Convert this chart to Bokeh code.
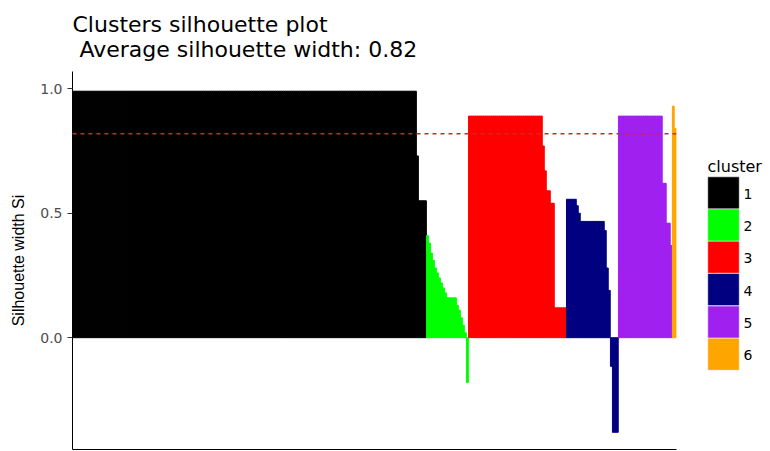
from bokeh.plotting import figure
from bokeh.models import Span, FixedTicker, PrintfTickFormatter, ColumnDataSource
from bokeh.layouts import row
from bokeh.embed import file_html
from bokeh.resources import INLINE
from bokeh.core.properties import value

# ---- data (silhouette widths, sorted within cluster; run-length: value, count) ----
clusters = ["1", "2", "3", "4", "5", "6"]
cluster_colors = ["#000000", "#00FF00", "#FF0000", "#000080", "#A020F0", "#FFA500"]

c1_vals = [0.99, 0.73, 0.55]
c1_counts = [172, 1, 4]

c2_vals = [0.41, 0.38, 0.34, 0.31, 0.28, 0.26, 0.24, 0.22, 0.20, 0.18, 0.16, 0.13, 0.11, 0.08, 0.05, 0.02, -0.18]
c2_counts = [1, 1, 1, 1, 1, 1, 1, 1, 1, 1, 5, 1, 1, 1, 1, 1, 1]

c3_vals = [0.89, 0.77, 0.67, 0.59, 0.54, 0.12]
c3_counts = [37, 1, 1, 2, 2, 6]

c4_vals = [0.556, 0.53, 0.50, 0.467, 0.43, 0.28, 0.19, -0.115, -0.38]
c4_counts = [5, 1, 1, 12, 1, 1, 1, 1, 3]

c5_vals = [0.89, 0.62, 0.46, 0.37]
c5_counts = [22, 2, 2, 1]

c6_vals = [0.93, 0.84]
c6_counts = [1, 1]

avg_label = "0.82"

all_vals = [c1_vals, c2_vals, c3_vals, c4_vals, c5_vals, c6_vals]
all_counts = [c1_counts, c2_counts, c3_counts, c4_counts, c5_counts, c6_counts]

xs, tops, cols = [], [], []
i = 1
for vals, counts, col in zip(all_vals, all_counts, cluster_colors):
    for v, c in zip(vals, counts):
        for _ in range(c):
            xs.append(i)
            tops.append(v)
            cols.append(col)
            i += 1
n = len(xs)
mean_sil = sum(tops) / n

src = ColumnDataSource(dict(x=xs, top=tops, color=cols))

ymin = min(min(tops), 0)
ymax = 1.0
pad = (ymax - ymin) * 0.05

FONT = "DejaVu Sans"
FIG_H = 451
TOP_B = 71
BOT_B = 2

p = figure(width=680, height=FIG_H, x_range=(0.4, n + 0.6), y_range=(ymin - pad, ymax + pad),
           output_backend="svg", toolbar_location=None,
           min_border_left=72, min_border_right=4, min_border_top=TOP_B, min_border_bottom=BOT_B)

p.vbar(x="x", top="top", bottom=0, width=0.9, fill_color="color", line_color="color",
       line_width=1, source=src)

p.add_layout(Span(location=mean_sil, dimension="width", line_color="#D02828",
                  line_dash="4 4", line_width=1.3))

# two-line title
p.title.text = "Clusters silhouette plot\n\u00a0Average silhouette width: " + avg_label
p.title.text_font = FONT
p.title.text_font_size = "22px"
p.title.text_font_style = "normal"
p.title.text_color = "black"
p.title.align = "left"
p.title.standoff = 19

# axes
p.xgrid.visible = False
p.ygrid.visible = False
p.outline_line_color = None

p.xaxis.ticker = FixedTicker(ticks=[])
p.xaxis.major_label_text_font_size = "0px"
p.xaxis.major_tick_out = 0
p.xaxis.major_tick_in = 0
p.xaxis.minor_tick_out = 0
p.xaxis.minor_tick_in = 0
p.xaxis.axis_line_color = "black"
p.xaxis.major_label_standoff = 0

p.yaxis.ticker = FixedTicker(ticks=[0.0, 0.5, 1.0])
p.yaxis.formatter = PrintfTickFormatter(format="%.1f")
p.yaxis.major_label_text_font = FONT
p.yaxis.major_label_text_font_size = "14px"
p.yaxis.major_label_text_color = "#4D4D4D"
p.yaxis.major_tick_out = 5
p.yaxis.major_tick_in = 0
p.yaxis.minor_tick_out = 0
p.yaxis.minor_tick_in = 0
p.yaxis.major_tick_line_color = "#333333"
p.yaxis.axis_line_color = "black"
p.yaxis.major_label_standoff = 5
p.yaxis.axis_label = "Silhouette width Si"
p.yaxis.axis_label_text_font = "Liberation Sans"
p.yaxis.axis_label_text_font_size = "16px"
p.yaxis.axis_label_text_font_style = "normal"
p.yaxis.axis_label_text_color = "black"
p.yaxis.axis_label_standoff = 10

# ---- legend as a small figure (its frame is aligned with the main frame) ----
LW = 90
lf = figure(width=LW, height=FIG_H, x_range=(0, LW), y_range=(FIG_H - BOT_B, TOP_B),
            output_backend="svg", toolbar_location=None, min_border=0,
            min_border_top=TOP_B, min_border_bottom=BOT_B)
lf.axis.visible = False
lf.xgrid.visible = False
lf.ygrid.visible = False
lf.outline_line_color = None

key_top0 = 176.7
pitch = 32.3
key_h = 31
kx0, kx1 = 27.7, 58.3
ktop = [key_top0 + k * pitch for k in range(len(clusters))]
lsrc = ColumnDataSource(dict(
    left=[kx0] * len(clusters), right=[kx1] * len(clusters),
    top=ktop, bottom=[t + key_h for t in ktop],
    color=cluster_colors, label=clusters,
    lx=[63] * len(clusters), ly=[t + key_h / 2 + 1 for t in ktop]))
lf.quad(left="left", right="right", top="top", bottom="bottom",
        fill_color="color", line_color="color", line_width=0.5, source=lsrc)
lf.text(x="lx", y="ly", text="label", text_font=value(FONT), text_font_size="14px",
        text_baseline="middle", text_align="left", text_color="black", source=lsrc)
lf.text(x=[27], y=[166], text=["cluster"], text_font=value(FONT), text_font_size="16px",
        text_baseline="alphabetic", text_align="left", text_color="black")

layout = row(p, lf)
open("out.html", "w").write(file_html(layout, INLINE))
